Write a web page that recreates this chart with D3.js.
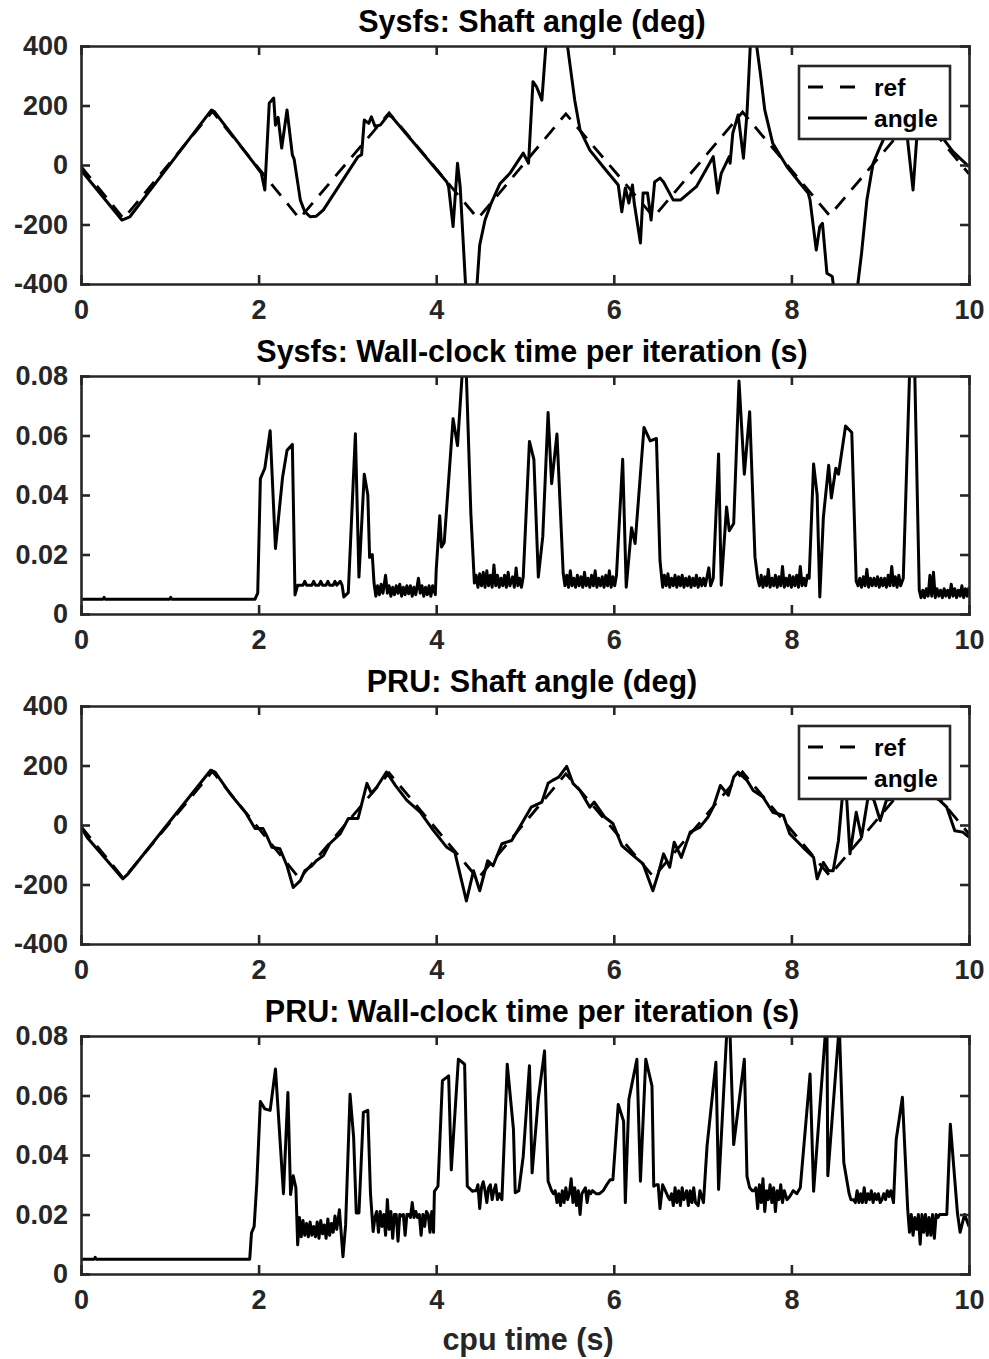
<!DOCTYPE html>
<html>
<head>
<meta charset="utf-8">
<script src="https://cdn.jsdelivr.net/npm/d3@7"></script>
<style>
  body { margin: 0; background: #fff; }
  svg { display: block; font-family: "Liberation Sans", Arial, Helvetica, sans-serif; font-weight: bold; }
  .axis path, .axis line { stroke: #262626; stroke-width: 2.6; }
  .axis text { fill: #262626; font-size: 27px; font-weight: bold; }
</style>
</head>
<body>
<div id="chart"></div>
<script>
// tick labels
var xTicks = [0, 2, 4, 6, 8, 10];
var angleTicks = [-400, -200, 0, 200, 400];
var timeTicks = [0, 0.02, 0.04, 0.06, 0.08];

// reference triangle (corners), shared by both angle panels
var refAngle = [[0,-5],[0.48,-180],[1.48,180],[2.46,-180],[3.47,175],[4.47,-180],[5.46,172],
  [6.45,-175],[7.45,178],[8.43,-170],[9.42,178],[10,-30]];

// Sysfs measured angle
var sysfsAngle = [[0,-17],[0.46,-185],[0.55,-174],[1.47,185],[1.5,180],[1.99,-11],[2.03,-27],[2.07,-84],
  [2.12,208],[2.17,225],[2.19,134],[2.22,160],[2.26,57],[2.32,185],[2.38,34],[2.4,20],[2.47,-118],
  [2.52,-157],[2.58,-174],[2.65,-172],[2.73,-151],[3.12,28],[3.16,35],[3.19,151],[3.24,140],[3.27,162],
  [3.31,130],[3.37,134],[3.46,168],[3.5,162],[4.12,-57],[4.14,-73],[4.19,-207],[4.24,6],[4.27,-73],
  [4.33,-400],[4.4,-520],[4.46,-400],[4.49,-269],[4.55,-185],[4.62,-128],[4.72,-62],[4.83,-28],[4.98,40],
  [5.04,6],[5.09,280],[5.13,263],[5.19,218],[5.24,420],[5.35,620],[5.47,420],[5.51,330],[5.56,218],
  [5.62,118],[5.73,50],[5.88,-6],[6.05,-67],[6.09,-157],[6.13,-77],[6.17,-128],[6.21,-67],[6.23,-128],
  [6.3,-262],[6.33,-94],[6.38,-94],[6.42,-185],[6.46,-57],[6.52,-44],[6.56,-57],[6.67,-118],[6.75,-118],
  [6.93,-73],[7.12,28],[7.17,-94],[7.21,-28],[7.3,28],[7.31,6],[7.34,107],[7.4,168],[7.46,23],[7.5,174],
  [7.54,420],[7.57,480],[7.6,420],[7.65,309],[7.7,185],[7.79,73],[7.95,-6],[8.1,-62],[8.19,-95],[8.21,-118],
  [8.28,-286],[8.32,-207],[8.35,-196],[8.4,-364],[8.46,-375],[8.48,-420],[8.6,-560],[8.74,-420],[8.79,-297],
  [8.85,-118],[8.92,6],[9.0,62],[9.07,107],[9.15,135],[9.22,150],[9.3,107],[9.37,-84],[9.41,84],[9.5,130],
  [9.6,125],[9.69,96],[9.82,45],[10,-6]];

// Sysfs wall-clock time per iteration
var sysfsTime = [[0,0.005],[0.25,0.005],[0.26,0.0056],[0.27,0.005],[1.0,0.005],[1.01,0.0056],[1.02,0.005],
  [1.96,0.005],[1.99,0.007],[2.02,0.0455],[2.07,0.049],[2.13,0.0616],[2.19,0.022],[2.27,0.046],[2.32,0.055],
  [2.38,0.057],[2.41,0.0064],[2.44,0.0097],[2.5,0.0097],[2.52,0.011],[2.54,0.0097],[2.6,0.0097],[2.62,0.011],
  [2.64,0.0097],[2.68,0.0097],[2.7,0.011],[2.72,0.0097],[2.76,0.0097],[2.78,0.011],[2.8,0.0097],[2.84,0.0097],
  [2.86,0.011],[2.88,0.0097],[2.92,0.011],[2.94,0.0097],[2.96,0.0057],[3.01,0.0072],[3.09,0.0606],
  [3.13,0.0124],[3.19,0.047],[3.23,0.04],[3.25,0.019],[3.28,0.02],[3.3,0.0104],[3.32,0.006],[3.34,0.0095],
  [3.36,0.0065],[3.38,0.01],[3.4,0.007],[3.43,0.013],[3.45,0.007],[3.47,0.0095],[3.49,0.006],[3.51,0.009],
  [3.53,0.0065],[3.55,0.0095],[3.57,0.007],[3.59,0.01],[3.61,0.006],[3.63,0.009],[3.65,0.0065],[3.67,0.0095],
  [3.69,0.0068],[3.71,0.0095],[3.73,0.006],[3.75,0.009],[3.77,0.0065],[3.8,0.012],[3.82,0.007],[3.84,0.0095],
  [3.86,0.006],[3.88,0.009],[3.9,0.0065],[3.92,0.0095],[3.94,0.006],[3.96,0.0095],[3.99,0.0065],[4.0,0.0147],
  [4.04,0.033],[4.06,0.0225],[4.09,0.024],[4.19,0.0656],[4.24,0.0566],[4.29,0.0795],[4.31,0.086],[4.34,0.08],
  [4.39,0.034],[4.43,0.0104],[4.45,0.013],[4.47,0.009],[4.49,0.0135],[4.51,0.0095],[4.53,0.014],[4.55,0.009],
  [4.57,0.0145],[4.59,0.0095],[4.61,0.013],[4.63,0.009],[4.65,0.0165],[4.67,0.0095],[4.69,0.013],[4.71,0.009],
  [4.73,0.012],[4.75,0.0095],[4.77,0.013],[4.79,0.009],[4.81,0.014],[4.83,0.0095],[4.86,0.0125],[4.88,0.009],
  [4.9,0.0155],[4.92,0.0095],[4.94,0.012],[4.96,0.009],[4.98,0.0124],[5.05,0.058],[5.1,0.052],[5.15,0.0124],
  [5.2,0.026],[5.26,0.0677],[5.3,0.0438],[5.36,0.0605],[5.43,0.0137],[5.45,0.0095],[5.47,0.013],[5.49,0.009],
  [5.51,0.0145],[5.53,0.0095],[5.55,0.012],[5.57,0.009],[5.59,0.013],[5.61,0.0095],[5.63,0.0125],[5.65,0.009],
  [5.67,0.014],[5.69,0.0095],[5.71,0.012],[5.73,0.009],[5.75,0.013],[5.77,0.0095],[5.79,0.0145],[5.81,0.009],
  [5.83,0.012],[5.85,0.0095],[5.87,0.0125],[5.89,0.009],[5.91,0.013],[5.93,0.0095],[5.95,0.0145],[5.97,0.009],
  [5.99,0.0125],[6.01,0.0095],[6.03,0.013],[6.1,0.052],[6.14,0.009],[6.2,0.029],[6.24,0.0237],[6.34,0.0627],
  [6.41,0.0582],[6.48,0.059],[6.52,0.018],[6.55,0.009],[6.57,0.013],[6.59,0.0095],[6.61,0.0135],[6.63,0.009],
  [6.65,0.012],[6.67,0.0095],[6.69,0.013],[6.71,0.009],[6.73,0.0125],[6.75,0.0095],[6.77,0.013],[6.79,0.009],
  [6.81,0.012],[6.83,0.0095],[6.85,0.0125],[6.87,0.009],[6.89,0.012],[6.91,0.0095],[6.93,0.013],[6.95,0.009],
  [6.97,0.012],[6.99,0.0095],[7.01,0.012],[7.03,0.0095],[7.05,0.0125],[7.07,0.0155],[7.09,0.0095],[7.12,0.012],
  [7.18,0.0538],[7.21,0.0097],[7.27,0.036],[7.3,0.028],[7.35,0.0304],[7.41,0.0783],[7.47,0.047],[7.53,0.068],
  [7.59,0.0191],[7.62,0.012],[7.64,0.0095],[7.66,0.013],[7.68,0.009],[7.7,0.0125],[7.72,0.0095],[7.74,0.015],
  [7.76,0.009],[7.78,0.012],[7.8,0.0095],[7.82,0.013],[7.84,0.009],[7.86,0.0125],[7.88,0.0095],[7.9,0.016],
  [7.92,0.009],[7.94,0.012],[7.96,0.0095],[7.98,0.013],[8.0,0.009],[8.02,0.0125],[8.04,0.0095],[8.06,0.013],
  [8.08,0.009],[8.1,0.016],[8.12,0.0095],[8.14,0.012],[8.16,0.0095],[8.18,0.013],[8.2,0.012],[8.25,0.0504],
  [8.29,0.04],[8.32,0.0057],[8.36,0.0325],[8.42,0.05],[8.45,0.039],[8.5,0.049],[8.53,0.047],[8.61,0.0632],
  [8.68,0.061],[8.73,0.011],[8.75,0.0095],[8.77,0.012],[8.79,0.009],[8.81,0.0125],[8.83,0.0095],[8.85,0.015],
  [8.87,0.009],[8.89,0.012],[8.91,0.0095],[8.93,0.012],[8.95,0.0095],[8.97,0.0125],[8.99,0.009],[9.01,0.012],
  [9.03,0.0095],[9.05,0.012],[9.07,0.009],[9.09,0.013],[9.11,0.0095],[9.13,0.016],[9.15,0.0095],[9.17,0.0125],
  [9.19,0.009],[9.21,0.013],[9.23,0.0095],[9.26,0.012],[9.33,0.08],[9.36,0.088],[9.39,0.08],[9.44,0.008],
  [9.46,0.0055],[9.48,0.008],[9.5,0.0055],[9.52,0.0085],[9.54,0.006],[9.56,0.013],[9.58,0.006],[9.6,0.014],
  [9.62,0.0055],[9.64,0.0085],[9.66,0.006],[9.68,0.008],[9.7,0.0055],[9.72,0.0085],[9.74,0.006],[9.76,0.008],
  [9.78,0.0055],[9.8,0.01],[9.82,0.006],[9.84,0.0085],[9.86,0.0055],[9.88,0.008],[9.9,0.006],[9.92,0.0095],
  [9.94,0.0055],[9.96,0.0085],[9.98,0.006],[10,0.009]];

// PRU measured angle
var pruAngle = [[0,-7],[0.07,-42],[0.47,-181],[0.53,-164],[1.46,184],[1.51,178],[1.68,105],[1.86,39],[1.96,-12],
  [2.05,-12],[2.09,-35],[2.15,-75],[2.24,-80],[2.32,-137],[2.39,-210],[2.47,-187],[2.52,-154],[2.6,-137],
  [2.65,-120],[2.73,-103],[2.8,-63],[2.92,-29],[3.01,22],[3.12,22],[3.22,140],[3.27,106],[3.33,127],[3.44,178],
  [3.54,133],[3.67,83],[3.82,43],[3.97,-19],[4.12,-75],[4.21,-92],[4.34,-255],[4.42,-154],[4.49,-221],
  [4.58,-120],[4.64,-137],[4.74,-63],[4.85,-52],[4.94,-7],[5.07,60],[5.19,77],[5.26,140],[5.31,150],
  [5.38,161],[5.47,197],[5.54,140],[5.62,116],[5.73,60],[5.78,77],[5.9,26],[5.99,5],[6.09,-69],[6.22,-103],
  [6.33,-131],[6.44,-221],[6.5,-164],[6.56,-97],[6.63,-142],[6.68,-58],[6.76,-109],[6.86,-24],[6.97,-7],
  [7.06,26],[7.12,60],[7.2,133],[7.29,100],[7.35,161],[7.4,178],[7.5,150],[7.57,116],[7.68,94],[7.79,43],
  [7.91,32],[7.98,-29],[8.13,-75],[8.25,-109],[8.29,-181],[8.36,-126],[8.42,-154],[8.47,-154],[8.53,-52],
  [8.59,150],[8.62,100],[8.66,-97],[8.73,43],[8.79,-41],[8.87,106],[8.93,83],[9.0,15],[9.07,83],[9.17,90],
  [9.3,100],[9.45,100],[9.6,95],[9.67,83],[9.75,60],[9.84,-19],[9.93,-24],[10,-41]];

// PRU wall-clock time per iteration
var pruTime = [[0,0.005],[0.15,0.005],[0.16,0.0056],[0.17,0.005],[1.9,0.005],[1.92,0.0138],[1.95,0.016],
  [1.98,0.0307],[2.02,0.058],[2.07,0.0555],[2.13,0.055],[2.19,0.0689],[2.28,0.027],[2.33,0.061],[2.36,0.0267],
  [2.39,0.033],[2.42,0.029],[2.44,0.0098],[2.46,0.019],[2.48,0.0125],[2.5,0.018],[2.52,0.013],[2.54,0.017],
  [2.56,0.0125],[2.58,0.0175],[2.6,0.013],[2.62,0.016],[2.64,0.0125],[2.66,0.0175],[2.68,0.012],[2.7,0.018],
  [2.72,0.0135],[2.74,0.0165],[2.76,0.012],[2.78,0.0185],[2.8,0.013],[2.82,0.017],[2.84,0.014],[2.86,0.0195],
  [2.88,0.015],[2.91,0.0216],[2.95,0.0058],[2.98,0.0165],[3.03,0.0604],[3.07,0.046],[3.1,0.0205],[3.13,0.0205],
  [3.18,0.0543],[3.23,0.055],[3.26,0.027],[3.29,0.0143],[3.31,0.019],[3.33,0.021],[3.35,0.014],[3.37,0.021],
  [3.39,0.016],[3.41,0.02],[3.43,0.013],[3.45,0.025],[3.47,0.015],[3.49,0.021],[3.51,0.012],[3.53,0.02],
  [3.55,0.02],[3.57,0.011],[3.59,0.02],[3.61,0.0195],[3.63,0.02],[3.65,0.013],[3.67,0.02],[3.69,0.02],
  [3.71,0.019],[3.73,0.024],[3.75,0.019],[3.77,0.021],[3.79,0.019],[3.81,0.02],[3.83,0.013],[3.85,0.02],
  [3.87,0.016],[3.89,0.021],[3.91,0.02],[3.93,0.014],[3.95,0.021],[3.97,0.014],[3.98,0.0278],[4.02,0.0295],
  [4.07,0.065],[4.14,0.0666],[4.17,0.035],[4.25,0.0722],[4.32,0.0705],[4.35,0.0295],[4.41,0.0278],[4.43,0.028],
  [4.45,0.028],[4.47,0.03],[4.49,0.022],[4.51,0.029],[4.53,0.031],[4.55,0.028],[4.57,0.024],[4.59,0.029],
  [4.61,0.03],[4.63,0.025],[4.65,0.028],[4.67,0.03],[4.69,0.025],[4.71,0.027],[4.74,0.025],[4.8,0.0705],
  [4.87,0.0486],[4.89,0.0273],[4.93,0.028],[4.98,0.0396],[5.05,0.07],[5.08,0.034],[5.15,0.059],[5.22,0.075],
  [5.26,0.0312],[5.3,0.028],[5.32,0.027],[5.34,0.028],[5.36,0.024],[5.38,0.027],[5.4,0.023],[5.42,0.028],
  [5.44,0.024],[5.46,0.029],[5.48,0.025],[5.5,0.027],[5.52,0.032],[5.54,0.024],[5.56,0.029],[5.58,0.023],
  [5.6,0.028],[5.62,0.02],[5.64,0.027],[5.66,0.028],[5.68,0.029],[5.7,0.024],[5.72,0.028],[5.74,0.027],
  [5.76,0.028],[5.8,0.027],[5.84,0.027],[5.88,0.028],[5.92,0.03],[5.96,0.0317],[5.99,0.0317],[6.05,0.057],
  [6.11,0.0514],[6.13,0.024],[6.17,0.0587],[6.26,0.0722],[6.3,0.0312],[6.36,0.0722],[6.43,0.0632],[6.45,0.0295],
  [6.48,0.03],[6.5,0.03],[6.52,0.022],[6.55,0.03],[6.58,0.028],[6.61,0.026],[6.63,0.025],[6.65,0.027],
  [6.67,0.023],[6.69,0.029],[6.71,0.024],[6.73,0.028],[6.75,0.023],[6.77,0.029],[6.79,0.025],[6.82,0.028],
  [6.84,0.023],[6.86,0.028],[6.88,0.024],[6.9,0.029],[6.92,0.024],[6.95,0.023],[6.97,0.028],[7.01,0.024],
  [7.05,0.043],[7.15,0.0712],[7.18,0.0284],[7.27,0.08],[7.29,0.085],[7.31,0.08],[7.35,0.0435],[7.47,0.0722],
  [7.5,0.0328],[7.53,0.029],[7.56,0.028],[7.58,0.028],[7.6,0.029],[7.62,0.022],[7.64,0.03],[7.66,0.024],
  [7.68,0.032],[7.7,0.021],[7.72,0.028],[7.74,0.025],[7.76,0.03],[7.78,0.024],[7.8,0.029],[7.82,0.021],
  [7.84,0.028],[7.86,0.025],[7.88,0.03],[7.9,0.024],[7.92,0.028],[7.95,0.025],[7.98,0.026],[8.02,0.028],
  [8.06,0.027],[8.1,0.029],[8.21,0.0672],[8.25,0.0278],[8.38,0.08],[8.4,0.085],[8.41,0.033],[8.53,0.08],
  [8.54,0.083],[8.59,0.0375],[8.65,0.027],[8.67,0.025],[8.7,0.025],[8.72,0.024],[8.74,0.028],[8.76,0.024],
  [8.78,0.027],[8.8,0.024],[8.82,0.029],[8.84,0.024],[8.86,0.027],[8.88,0.025],[8.9,0.028],[8.92,0.024],
  [8.94,0.027],[8.96,0.025],[8.98,0.027],[9.0,0.024],[9.02,0.025],[9.04,0.027],[9.06,0.025],[9.08,0.028],
  [9.1,0.026],[9.12,0.028],[9.15,0.024],[9.18,0.0452],[9.25,0.0594],[9.31,0.0216],[9.33,0.014],[9.35,0.02],
  [9.37,0.013],[9.39,0.019],[9.41,0.015],[9.43,0.02],[9.45,0.01],[9.47,0.02],[9.49,0.014],[9.51,0.02],
  [9.53,0.013],[9.55,0.019],[9.57,0.013],[9.59,0.02],[9.61,0.012],[9.63,0.02],[9.65,0.019],[9.67,0.02],
  [9.7,0.02],[9.72,0.02],[9.75,0.02],[9.79,0.0503],[9.87,0.0205],[9.9,0.014],[9.95,0.02],[10,0.016]];

// layout
var svgWidth = 989;
var svgHeight = 1359;
var left = 81;
var plotWidth = 888;
var plotHeight = 238;

var svg = d3.select("#chart")
  .append("svg")
  .attr("width", svgWidth)
  .attr("height", svgHeight);

var xScale = d3.scaleLinear().domain([0, 10]).range([0, plotWidth]);

var panels = [
  { top: 46, title: "Sysfs: Shaft angle (deg)", domain: [-400, 400], ticks: angleTicks, angle: sysfsAngle, legend: true },
  { top: 376, title: "Sysfs: Wall-clock time per iteration (s)", domain: [0, 0.08], ticks: timeTicks, time: sysfsTime },
  { top: 706, title: "PRU: Shaft angle (deg)", domain: [-400, 400], ticks: angleTicks, angle: pruAngle, legend: true },
  { top: 1036, title: "PRU: Wall-clock time per iteration (s)", domain: [0, 0.08], ticks: timeTicks, time: pruTime }
];

panels.forEach(function(p, i) {
  var g = svg.append("g").attr("transform", `translate(${left}, ${p.top})`);
  var yScale = d3.scaleLinear().domain(p.domain).range([plotHeight, 0]);

  g.append("clipPath").attr("id", "clip" + i)
    .append("rect").attr("width", plotWidth).attr("height", plotHeight);

  var line = d3.line()
    .x(d => xScale(d[0]))
    .y(d => yScale(d[1]));

  var plot = g.append("g").attr("clip-path", `url(#clip${i})`);

  if (p.angle) {
    plot.append("path")
      .datum(refAngle)
      .attr("d", line)
      .attr("fill", "none")
      .attr("stroke", "#000")
      .attr("stroke-width", 2.8)
      .attr("stroke-dasharray", "15,10");
    plot.append("path")
      .datum(p.angle)
      .attr("d", line)
      .attr("fill", "none")
      .attr("stroke", "#000")
      .attr("stroke-width", 3)
      .attr("stroke-linejoin", "round");
  } else {
    plot.append("path")
      .datum(p.time)
      .attr("d", line)
      .attr("fill", "none")
      .attr("stroke", "#000")
      .attr("stroke-width", 3)
      .attr("stroke-linejoin", "round");
  }

  // axes with inward ticks on all four sides
  g.append("g").attr("class", "axis")
    .call(d3.axisLeft(yScale).tickValues(p.ticks).tickFormat(d => String(d))
      .tickSizeInner(-9).tickSizeOuter(0).tickPadding(13));
  g.append("g").attr("class", "axis")
    .attr("transform", `translate(${plotWidth}, 0)`)
    .call(d3.axisRight(yScale).tickValues(p.ticks).tickFormat("")
      .tickSizeInner(-9).tickSizeOuter(0));
  g.append("g").attr("class", "axis")
    .attr("transform", `translate(0, ${plotHeight})`)
    .call(d3.axisBottom(xScale).tickValues(xTicks).tickFormat(d => String(d))
      .tickSizeInner(-9).tickSizeOuter(0).tickPadding(16));
  g.append("g").attr("class", "axis")
    .call(d3.axisTop(xScale).tickValues(xTicks).tickFormat("")
      .tickSizeInner(-9).tickSizeOuter(0));

  g.selectAll(".axis .domain").attr("stroke-linecap", "square");

  g.append("text")
    .attr("x", plotWidth / 2 + 7)
    .attr("y", -14)
    .attr("text-anchor", "middle")
    .style("font-size", "30.5px")
    .style("fill", "#000")
    .text(p.title);

  if (p.legend) {
    var lg = g.append("g").attr("transform", `translate(${plotWidth - 170}, 20)`);
    lg.append("rect")
      .attr("width", 151).attr("height", 73)
      .attr("fill", "#fff").attr("stroke", "#262626").attr("stroke-width", 2.6);
    lg.append("line")
      .attr("x1", 9).attr("x2", 68).attr("y1", 21).attr("y2", 21)
      .attr("stroke", "#000").attr("stroke-width", 2.8).attr("stroke-dasharray", "15,17");
    lg.append("line")
      .attr("x1", 9).attr("x2", 68).attr("y1", 52).attr("y2", 52)
      .attr("stroke", "#000").attr("stroke-width", 3);
    lg.append("text").attr("x", 75).attr("y", 30).style("font-size", "24.5px").text("ref");
    lg.append("text").attr("x", 75).attr("y", 61).style("font-size", "24.5px").text("angle");
  }
});

svg.append("text")
  .attr("x", left + plotWidth / 2 + 3)
  .attr("y", 1350)
  .attr("text-anchor", "middle")
  .style("font-size", "30.5px")
  .style("fill", "#262626")
  .text("cpu time (s)");
</script>
</body>
</html>
